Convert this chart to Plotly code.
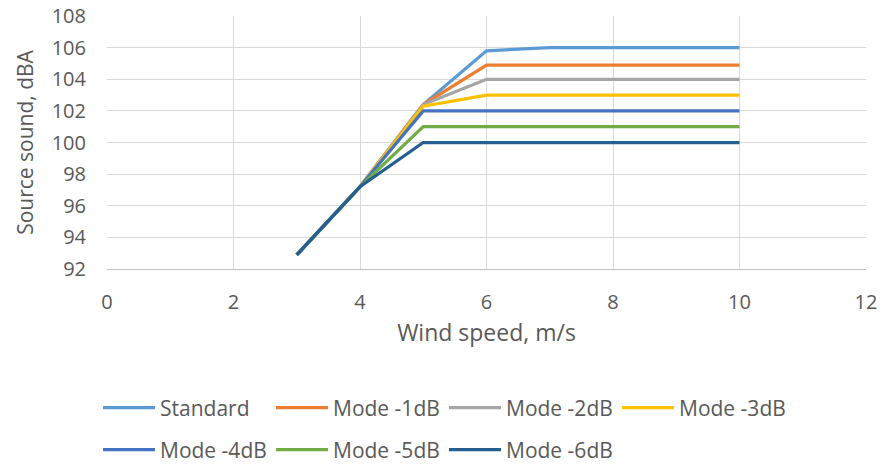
import plotly.graph_objects as go

# Wind speed (m/s) and source sound power (dBA) for each operating mode
wind_speed = [3, 4, 5, 6, 7, 8, 9, 10]
standard = [92.9, 97.2, 102.4, 105.8, 106.0, 106.0, 106.0, 106.0]
mode_1db = [92.9, 97.2, 102.4, 104.9, 104.9, 104.9, 104.9, 104.9]
mode_2db = [92.9, 97.2, 102.4, 104.0, 104.0, 104.0, 104.0, 104.0]
mode_3db = [92.9, 97.2, 102.3, 103.0, 103.0, 103.0, 103.0, 103.0]
mode_4db = [92.9, 97.2, 102.0, 102.0, 102.0, 102.0, 102.0, 102.0]
mode_5db = [92.9, 97.2, 101.0, 101.0, 101.0, 101.0, 101.0, 101.0]
mode_6db = [92.9, 97.2, 100.0, 100.0, 100.0, 100.0, 100.0, 100.0]

series = [
    ("Standard", standard, "#5B9BD5", "legend"),
    ("Mode -1dB", mode_1db, "#ED7D31", "legend"),
    ("Mode -2dB", mode_2db, "#A5A5A5", "legend"),
    ("Mode -3dB", mode_3db, "#FFC000", "legend"),
    ("Mode -4dB", mode_4db, "#4472C4", "legend2"),
    ("Mode -5dB", mode_5db, "#70AD47", "legend2"),
    ("Mode -6dB", mode_6db, "#255E91", "legend2"),
]

FONT = "Open Sans"
TXT = "#595959"
GRID = "#D9D9D9"

fig = go.Figure()
for name, vals, color, leg in series:
    fig.add_trace(go.Scatter(
        x=wind_speed, y=vals, name=name, mode="lines",
        line=dict(color=color, width=3.25),
        legend=leg,
    ))

legend_common = dict(
    orientation="h", xanchor="left", yanchor="middle",
    xref="container", yref="container",
    font=dict(family=FONT, size=21, color=TXT),
    itemwidth=52, entrywidth=106, entrywidthmode="pixels",
    bgcolor="rgba(0,0,0,0)", tracegroupgap=0,
)

fig.update_layout(
    width=893, height=465,
    margin=dict(l=107, r=27, t=16, b=196, autoexpand=False),
    paper_bgcolor="white", plot_bgcolor="white",
    font=dict(family=FONT, size=20, color=TXT),
    showlegend=True,
    legend=dict(x=98 / 893, y=1 - 408 / 465, **legend_common),
    legend2=dict(x=98 / 893, y=1 - 450 / 465, **legend_common),
    xaxis=dict(
        range=[0, 12], dtick=2, tick0=0,
        showgrid=True, gridcolor=GRID, gridwidth=1,
        zeroline=False, showline=True, linecolor="#BFBFBF", linewidth=1,
        ticks="", ticklabelstandoff=15,
        tickfont=dict(family=FONT, size=20, color=TXT),
        title=dict(text="Wind speed, m/s", standoff=10,
                   font=dict(family=FONT, size=23, color=TXT)),
    ),
    yaxis=dict(
        range=[92, 108], dtick=2, tick0=92,
        showgrid=True, gridcolor=GRID, gridwidth=1,
        zeroline=False, showline=False,
        ticks="", ticklabelstandoff=20,
        tickfont=dict(family=FONT, size=20, color=TXT),
        title=dict(text="Source sound, dBA", standoff=12,
                   font=dict(family=FONT, size=21, color=TXT)),
    ),
)

fig.write_html("out.html")
